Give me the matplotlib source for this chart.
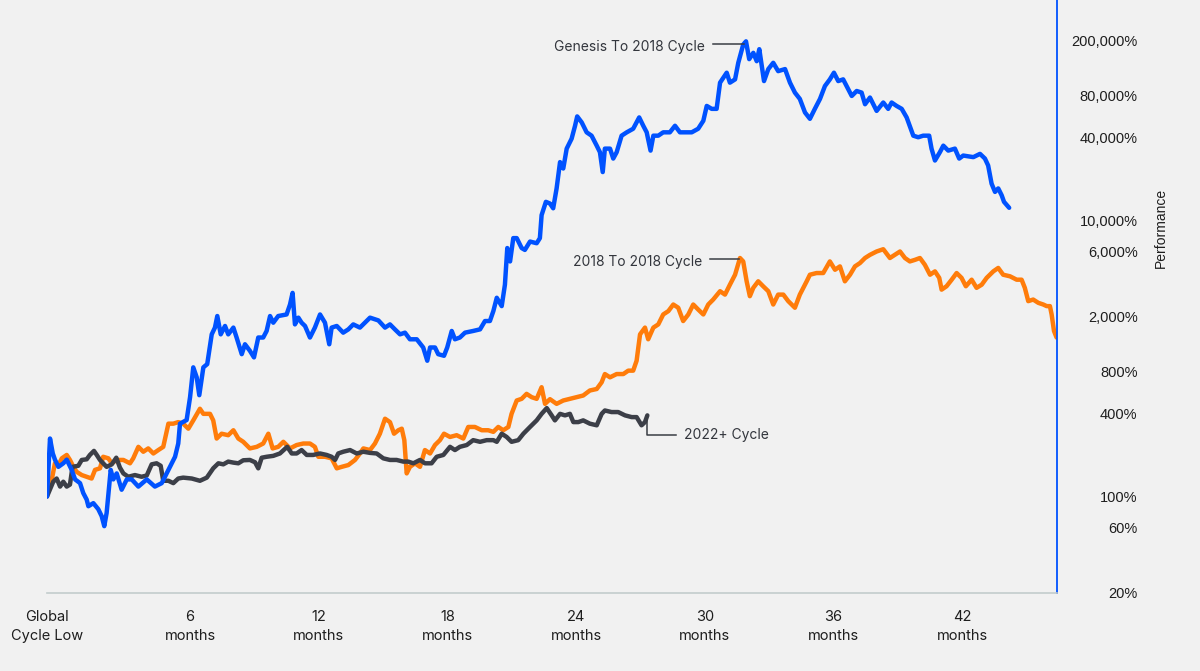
import matplotlib
matplotlib.use("Agg")
import matplotlib.pyplot as plt
import numpy as np

# cycle performance, months since global cycle low vs % of starting price
BLUE_MONTHS = [
    0.0, 0.14, 0.27, 0.37, 0.53, 0.76, 0.92, 1.15, 1.31, 1.54,
    1.69, 1.85, 1.93, 2.16, 2.39, 2.55, 2.67, 2.78, 2.97, 3.09,
    3.25, 3.48, 3.72, 3.95, 4.26, 4.65, 5.03, 5.35, 5.66, 5.97,
    6.12, 6.20, 6.51, 6.67, 6.82, 6.98, 7.10, 7.29, 7.47, 7.68,
    7.83, 7.94, 8.10, 8.30, 8.45, 8.69, 8.84, 9.08, 9.23, 9.46,
    9.65, 9.85, 10.08, 10.24, 10.40, 10.55, 10.78, 11.17, 11.33, 11.45,
    11.56, 11.72, 11.87, 12.03, 12.26, 12.49, 12.73, 12.96, 13.16, 13.27,
    13.51, 13.81, 14.05, 14.28, 14.59, 14.90, 15.06, 15.45, 15.76, 15.99,
    16.22, 16.46, 16.69, 16.92, 17.24, 17.54, 17.73, 17.86, 18.09, 18.24,
    18.51, 18.66, 18.87, 19.02, 19.25, 19.49, 19.87, 20.19, 20.42, 20.65,
    20.81, 20.97, 21.20, 21.35, 21.46, 21.59, 21.74, 21.90, 22.13, 22.28,
    22.52, 22.83, 22.98, 23.06, 23.26, 23.45, 23.60, 23.76, 23.92, 24.07,
    24.23, 24.46, 24.62, 24.72, 24.93, 25.16, 25.39, 25.63, 25.78, 25.91,
    26.01, 26.25, 26.40, 26.56, 26.79, 27.03, 27.33, 27.61, 27.80, 27.96,
    28.14, 28.27, 28.50, 28.73, 29.04, 29.28, 29.51, 29.82, 30.06, 30.36,
    30.60, 30.76, 30.99, 31.22, 31.38, 31.69, 31.84, 32.08, 32.23, 32.46,
    32.59, 32.74, 32.93, 33.09, 33.21, 33.43, 33.63, 33.86, 34.09, 34.41,
    34.64, 34.87, 35.10, 35.34, 35.57, 35.80, 36.04, 36.27, 36.50, 36.69,
    36.89, 37.12, 37.28, 37.52, 37.75, 37.98, 38.14, 38.37, 38.68, 38.99,
    39.22, 39.38, 39.61, 39.85, 40.08, 40.39, 40.62, 40.85, 41.13, 41.24,
    41.40, 41.63, 41.79, 42.02, 42.33, 42.53, 42.72, 43.19, 43.50, 43.73,
    43.88, 44.04, 44.20, 44.35, 44.51, 44.62, 44.86,
]
BLUE_PCT = [
    100, 263, 205, 185, 164, 174, 185, 156, 133, 125,
    106, 95, 85, 89.5, 81, 72, 61, 76, 156, 133,
    147, 112, 133, 133, 118, 133, 118, 125, 156, 194,
    242, 337, 358, 524, 862, 730, 542, 862, 910, 1495,
    1673, 2029, 1495, 1719, 1495, 1673, 1418, 1074, 1267, 1136,
    1018, 1418, 1418, 1582, 2029, 1816, 2029, 2083, 2459, 2985,
    1765, 1975, 1816, 1719, 1418, 1673, 2083, 1816, 1267, 1673,
    1719, 1538, 1625, 1765, 1673, 1867, 1975, 1886, 1673, 1765,
    1625, 1495, 1538, 1377, 1377, 1201, 963, 1201, 1201, 1074,
    1046, 1201, 1582, 1377, 1418, 1538, 1582, 1625, 1867, 1867,
    2203, 2752, 2394, 3423, 6306, 5045, 7443, 7443, 6306, 6113,
    7029, 6833, 7443, 10920, 13630, 13250, 12242, 17056, 26450, 23765,
    33112, 39085, 48480, 56660, 51290, 43460, 41090, 34800, 31200, 22400,
    33112, 33112, 28052, 31200, 41090, 43460, 46136, 55720, 48480, 43460,
    32040, 41090, 41090, 43460, 43460, 48480, 43460, 43460, 43460, 46136,
    52680, 67510, 64281, 64281, 99490, 117450, 99490, 105100, 138600, 187700,
    198200, 147297, 163600, 142300, 173867, 102200, 124788, 138600, 120600, 124788,
    99490, 84320, 75876, 60530, 54458, 64281, 75876, 94060, 105100, 117450,
    102200, 105100, 94060, 79690, 86600, 84320, 69440, 77610, 62160, 71450,
    64281, 71450, 67510, 64281, 55720, 41090, 40020, 41090, 41090, 33112,
    27160, 31200, 34800, 32040, 33112, 28052, 29500, 28730, 30340, 28052,
    24990, 18460, 16090, 17056, 15210, 13630, 12340,
]

ORANGE_MONTHS = [
    0.0, 0.22, 0.37, 0.53, 0.69, 0.92, 1.07, 1.23, 1.38, 1.62,
    1.85, 2.08, 2.24, 2.47, 2.62, 2.86, 3.02, 3.25, 3.56, 3.87,
    4.02, 4.26, 4.49, 4.72, 4.96, 5.19, 5.42, 5.66, 5.89, 6.12,
    6.35, 6.59, 6.82, 7.13, 7.29, 7.60, 7.75, 7.91, 8.14, 8.45,
    8.69, 8.92, 9.15, 9.46, 9.78, 10.08, 10.32, 10.52, 10.78, 11.02,
    11.33, 11.64, 11.95, 12.26, 12.49, 12.65, 12.96, 13.27, 13.51, 13.74,
    14.05, 14.36, 14.59, 14.75, 15.06, 15.29, 15.52, 15.76, 15.99, 16.18,
    16.38, 16.54, 16.66, 16.77, 16.92, 17.16, 17.39, 17.62, 17.86, 18.09,
    18.32, 18.51, 18.79, 19.10, 19.41, 19.64, 19.95, 20.27, 20.57, 20.81,
    21.04, 21.27, 21.51, 21.66, 21.90, 22.13, 22.36, 22.60, 22.83, 23.06,
    23.22, 23.45, 23.76, 24.07, 24.38, 24.69, 25.00, 25.31, 25.63, 25.86,
    26.01, 26.25, 26.56, 26.87, 27.10, 27.33, 27.49, 27.65, 27.88, 28.03,
    28.27, 28.50, 28.73, 28.97, 29.20, 29.43, 29.66, 29.90, 30.13, 30.36,
    30.60, 30.83, 31.06, 31.38, 31.61, 31.84, 32.08, 32.31, 32.46, 32.62,
    32.77, 32.93, 33.16, 33.39, 33.63, 33.86, 34.09, 34.33, 34.56, 34.87,
    35.10, 35.42, 35.57, 35.88, 36.19, 36.50, 36.74, 36.97, 37.20, 37.44,
    37.67, 37.90, 38.14, 38.37, 38.68, 38.99, 39.30, 39.53, 39.77, 40.00,
    40.23, 40.47, 40.70, 40.93, 41.17, 41.40, 41.60, 41.71, 41.94, 42.18,
    42.41, 42.64, 42.84, 43.11, 43.34, 43.58, 43.81, 44.12, 44.35, 44.58,
    44.90, 45.21, 45.44, 45.59, 45.75, 45.98, 46.22, 46.45, 46.61, 46.76,
    46.84, 46.95, 47.07,
]
ORANGE_PCT = [
    103, 132, 174, 169, 189, 200, 184, 164, 151, 143,
    139, 135, 156, 160, 194, 189, 174, 184, 184, 174,
    189, 229, 211, 223, 205, 217, 229, 337, 337, 346,
    337, 310, 356, 432, 397, 397, 356, 263, 285, 278,
    302, 263, 249, 223, 229, 242, 285, 223, 229, 249,
    223, 236, 242, 242, 229, 194, 194, 189, 160, 164,
    169, 184, 205, 223, 217, 242, 285, 366, 346, 285,
    302, 310, 256, 147, 164, 174, 164, 217, 205, 236,
    256, 285, 270, 278, 263, 319, 319, 302, 302, 294,
    319, 302, 319, 397, 496, 510, 554, 524, 510, 619,
    469, 507, 469, 496, 510, 524, 539, 586, 601, 672,
    771, 730, 771, 771, 816, 816, 963, 1495, 1673, 1377,
    1673, 1765, 2083, 2203, 2459, 2331, 1867, 2083, 2459, 2262,
    2083, 2459, 2671, 3070, 2901, 3423, 4042, 5342, 5045, 3622,
    2825, 3248, 3622, 3334, 3070, 2459, 2901, 2901, 2601, 2331,
    2901, 3622, 4042, 4157, 4157, 5045, 4391, 4645, 3622, 4042,
    4645, 4905, 5342, 5629, 5955, 6185, 5342, 5629, 5955, 5342,
    5045, 5181, 5342, 4769, 4042, 4274, 3834, 3152, 3334, 3720,
    4157, 3834, 3334, 3720, 3248, 3423, 3834, 4274, 4526, 4042,
    3936, 3720, 3720, 3248, 2601, 2671, 2528, 2459, 2394, 2394,
    2083, 1582, 1418,
]

GRAY_MONTHS = [
    0.0, 0.29, 0.45, 0.61, 0.76, 0.92, 1.07, 1.19, 1.46, 1.62,
    1.85, 2.00, 2.19, 2.32, 2.47, 2.62, 2.78, 3.02, 3.23, 3.40,
    3.56, 3.79, 4.10, 4.41, 4.65, 4.88, 5.11, 5.30, 5.42, 5.66,
    5.89, 6.12, 6.35, 6.75, 7.13, 7.45, 7.75, 7.99, 8.22, 8.45,
    8.69, 8.92, 9.15, 9.46, 9.70, 9.85, 10.01, 10.24, 10.55, 10.86,
    11.20, 11.41, 11.64, 11.87, 12.11, 12.41, 12.73, 13.04, 13.27, 13.43,
    13.58, 13.81, 14.13, 14.44, 14.75, 15.06, 15.37, 15.68, 15.99, 16.30,
    16.61, 16.84, 17.08, 17.39, 17.62, 17.93, 18.17, 18.48, 18.79, 19.02,
    19.25, 19.57, 19.87, 20.19, 20.50, 20.81, 20.97, 21.20, 21.43, 21.66,
    21.97, 22.21, 22.52, 22.83, 23.06, 23.30, 23.53, 23.68, 23.92, 24.15,
    24.38, 24.54, 24.77, 25.00, 25.31, 25.63, 25.86, 26.01, 26.32, 26.63,
    26.95, 27.26, 27.49, 27.72, 27.88, 27.99,
]
GRAY_PCT = [
    100, 128, 135, 118, 128, 118, 122, 164, 167, 184,
    186, 200, 214, 200, 184, 174, 164, 171, 191, 162,
    147, 139, 143, 139, 142, 171, 174, 167, 130, 130,
    125, 135, 137, 135, 130, 137, 160, 174, 171, 179,
    176, 174, 183, 184, 177, 160, 191, 194, 197, 205,
    229, 205, 205, 217, 200, 200, 205, 200, 194, 184,
    205, 211, 217, 205, 211, 207, 205, 189, 184, 184,
    179, 179, 174, 184, 174, 174, 194, 200, 229, 217,
    229, 236, 256, 249, 256, 256, 249, 285, 270, 249,
    256, 285, 319, 356, 397, 437, 387, 356, 397, 387,
    397, 346, 346, 356, 337, 328, 397, 420, 409, 409,
    387, 376, 376, 328, 346, 387,
]

Y_TICKS = [20, 60, 100, 400, 800, 2000, 6000, 10000, 40000, 80000, 200000]
X_TICK_MONTHS = [0, 6, 12, 18, 24, 30, 36, 42]

BG = "#f1f1f1"
BLUE = "#0052ff"
ORANGE = "#ff7c0a"
GRAY = "#3c3f48"
TXT = "#1e1e1e"

fig = plt.figure(figsize=(12, 6.71), dpi=100, facecolor=BG)
ax = fig.add_axes([47 / 1200, 78 / 671, 1010 / 1200, 593 / 671])
ax.set_facecolor(BG)

ax.plot(ORANGE_MONTHS, ORANGE_PCT, color=ORANGE, lw=3.2, zorder=2,
        solid_joinstyle="round", solid_capstyle="round")
ax.plot(GRAY_MONTHS, GRAY_PCT, color=GRAY, lw=3.2, zorder=3,
        solid_joinstyle="round", solid_capstyle="round")
ax.plot(BLUE_MONTHS, BLUE_PCT, color=BLUE, lw=3.2, zorder=4,
        solid_joinstyle="round", solid_capstyle="round")

ax.set_yscale("log")
ax.set_xlim(0, 47.09)
ax.set_ylim(21.4, 395000)

# axes / spines
for s in ["top", "left"]:
    ax.spines[s].set_visible(False)
ax.spines["bottom"].set_color("#c3cccc")
ax.spines["bottom"].set_linewidth(1.2)
ax.spines["right"].set_color(BLUE)
ax.spines["right"].set_linewidth(1.3)

# y ticks on the right, right aligned
ax.yaxis.tick_right()
ax.yaxis.set_minor_locator(matplotlib.ticker.NullLocator())
ax.set_yticks(Y_TICKS, [f"{v:,}%" for v in Y_TICKS])
ax.tick_params(axis="y", length=0, pad=58, labelsize=10.5, labelcolor=TXT)
for lab in ax.get_yticklabels():
    lab.set_horizontalalignment("right")
    lab.set_fontfamily("Liberation Sans")

# x ticks
xpos = [0] + [m + 0.67 for m in X_TICK_MONTHS[1:]]
xlabels = ["Global\nCycle Low"] + [f"{m}\nmonths" for m in X_TICK_MONTHS[1:]]
ax.set_xticks(xpos, xlabels)
ax.tick_params(axis="x", length=0, pad=12.5, labelsize=10.5, labelcolor=TXT)
for lab in ax.get_xticklabels():
    lab.set_fontfamily("Inter")
    lab.set_linespacing(1.45)

fig.text(1161 / 1200, 1 - 228 / 671, "Performance", rotation=90, ha="center",
         va="center", fontsize=10, color=TXT, family="Liberation Sans")

# annotations
ann_kw = dict(fontsize=10, color="#33363d", family="Inter", va="center")
line_kw = dict(color="#3a3d44", lw=1.1, zorder=5)

b = int(np.argmax(BLUE_PCT))
bx, by = BLUE_MONTHS[b], BLUE_PCT[b] * 0.95
ax.plot([bx - 1.55, bx - 0.1], [by, by], **line_kw)
ax.text(bx - 1.9, by * 0.96, "Genesis To 2018 Cycle", ha="right", **ann_kw)

om = np.array(ORANGE_MONTHS)
op = np.array(ORANGE_PCT)
o = int(np.argmax(np.where(om < 34, op, 0)))
ox, oy = om[o], op[o] * 0.98
ax.plot([ox - 1.4, ox - 0.05], [oy, oy], **line_kw)
ax.text(ox - 1.74, oy * 0.96, "2018 To 2018 Cycle", ha="right", **ann_kw)

gx, gy = GRAY_MONTHS[-1], GRAY_PCT[-1]
gl = gy * 0.72
ax.plot([gx, gx, gx + 1.33], [gy, gl, gl], **line_kw)
ax.text(gx + 1.7, gl, "2022+ Cycle", ha="left", **ann_kw)

fig.savefig("out.png", dpi=100, facecolor=BG)
